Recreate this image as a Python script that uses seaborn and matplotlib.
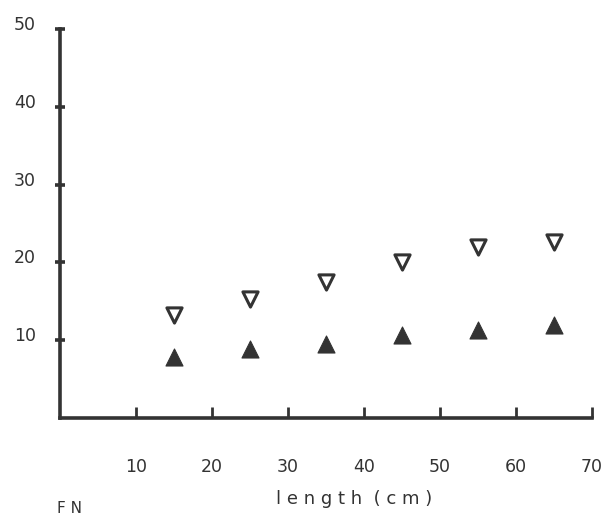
import matplotlib
matplotlib.use("Agg")
import matplotlib.pyplot as plt
import matplotlib.transforms as mtransforms
import seaborn as sns
import pandas as pd

# Measured values at each length class
length_cm = [15, 25, 35, 45, 55, 65]
open_series = [13.2, 15.3, 17.5, 20.1, 22.0, 22.6]
filled_series = [7.8, 8.9, 9.5, 10.7, 11.3, 12.0]

x_ticks = [10, 20, 30, 40, 50, 60, 70]
x_tick_labels = ["10", "20", "30", "40", "50", "60", "70"]
y_ticks = [10, 20, 30, 40, 50]
y_tick_labels = ["10", "20", "30", "40", "50"]

sns.set_theme(style="white")
plt.rcParams["font.family"] = ["DejaVu Sans"]
ink = "#333333"

fig = plt.figure(figsize=(6.12, 5.17), dpi=100)
ax = fig.add_axes([60 / 612, 1 - 418 / 517, 532 / 612, 389 / 517])

df = pd.DataFrame({"length": length_cm, "open": open_series, "filled": filled_series})
sns.scatterplot(data=df, x="length", y="open", marker="v", s=120,
                facecolor="white", edgecolor=ink, linewidth=2.2, ax=ax, zorder=3)
sns.scatterplot(data=df, x="length", y="filled", marker="^", s=150,
                color=ink, edgecolor=ink, linewidth=0.8, ax=ax, zorder=3)

ax.set_xlim(0, 70)
ax.set_ylim(0, 50)

for side in ("top", "right"):
    ax.spines[side].set_visible(False)
for side in ("left", "bottom"):
    ax.spines[side].set_linewidth(2.6)
    ax.spines[side].set_color(ink)

ax.set_xticks(x_ticks)
ax.set_xticklabels(x_tick_labels)
ax.set_yticks(y_ticks)
ax.set_yticklabels(y_tick_labels)

ax.tick_params(axis="x", bottom=True, direction="in", length=8, width=2, color=ink,
               labelsize=12.5, labelcolor=ink, pad=29)
ax.tick_params(axis="y", left=True, direction="inout", length=7, width=2.6, color=ink,
               labelsize=12.5, labelcolor=ink, pad=14)

# nudge the y labels slightly above their ticks
shift = mtransforms.ScaledTranslation(0, 6 / 100, fig.dpi_scale_trans)
for lab in ax.get_yticklabels():
    lab.set_transform(lab.get_transform() + shift)

ax.set_xlabel("")
ax.set_ylabel("")

fig.text(354 / 612, 1 - 499 / 517, "l e n g t h  ( c m )", ha="center", va="center",
         fontsize=13, color=ink)
fig.text(57 / 612, 1 - 501 / 517, "F N", ha="left", va="top", fontsize=11, color=ink)

fig.savefig("out.png", dpi=100, facecolor="white")
